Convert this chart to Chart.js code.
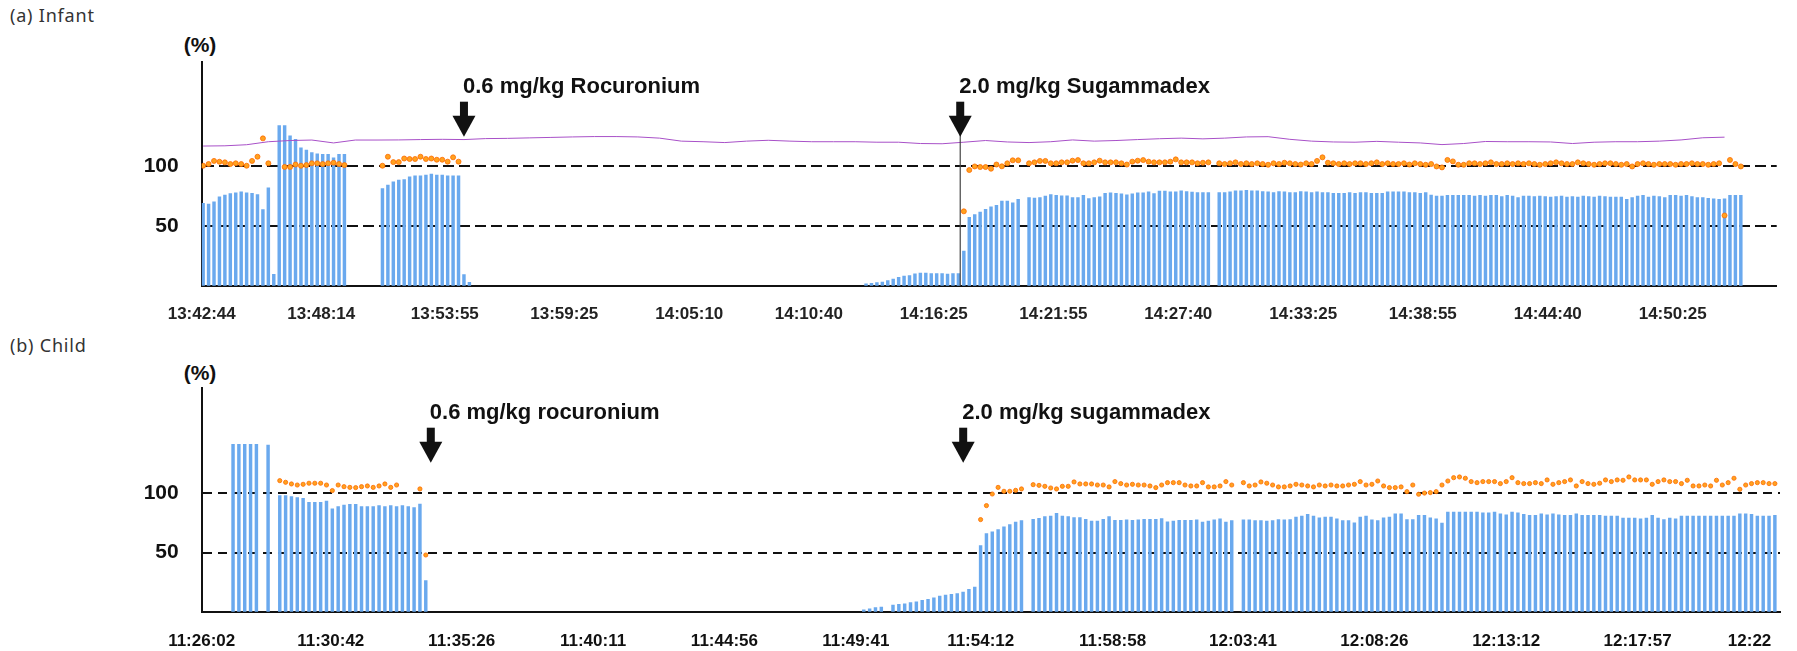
<!DOCTYPE html>
<html>
<head>
<meta charset="utf-8">
<script src="https://cdn.jsdelivr.net/npm/chart.js@4.4.1/dist/chart.umd.min.js"></script>
<style>
  body { margin: 0; background: #fff; width: 1797px; height: 651px; position: relative; overflow: hidden; }
  .panel { position: absolute; left: 0; width: 1797px; height: 325px; }
  .title { position: absolute; left: 10px; font-family: 'Noto Sans', sans-serif; font-size: 18px; line-height: 25px; color: #333; letter-spacing: 0.8px; }
  .unit { position: absolute; left: 170px; width: 60px; text-align: center; font-family: 'Liberation Sans', Arial, sans-serif; font-weight: bold; font-size: 21px; line-height: 24px; color: #111; }
</style>
</head>
<body>
<div class="title" style="top:3px">(a) Infant</div>
<div class="unit" style="top:33px">(%)</div>
<div class="panel" style="top:0px"><canvas id="infant" width="1797" height="325"></canvas></div>

<div class="title" style="top:333px">(b) Child</div>
<div class="unit" style="top:361px">(%)</div>
<div class="panel" style="top:326px"><canvas id="child" width="1797" height="325"></canvas></div>

<script>
const gap = n => new Array(n).fill(null);

// ---------- (a) Infant : one sample every 15 s ----------
const infantTicks = ['13:42:44', '13:48:14', '13:53:55', '13:59:25', '14:05:10', '14:10:40', '14:16:25',
    '14:21:55', '14:27:40', '14:33:25', '14:38:55', '14:44:40', '14:50:25'];
const infantAxisEnd = '14:55:12';
const infantFirstSample = '13:42:48';
const infantStep = 15;

// T1 (%)
const infantT1 = [
    68.7, 68, 70, 74, 75.6, 76.7, 77.5, 78.3, 77.5, 77, 76, 63.5, 81.6, 9.4, 133.5, 133.5, 125, 122, 115, 113,
    111, 110, 109.5, 109.5, 106.5, 109.5, 109.5,
    ...gap(6),
    81, 83.8, 86.6, 88, 88.5, 90.8, 91.6, 91.6, 92.2, 93, 92.2, 92.2, 91.6, 91.6, 91.6, 9.2, 2.8,
    ...gap(72),
    1.5, 2, 2.5, 3, 4.2, 5.6, 7, 8, 8.5, 9.9, 10.5, 10.5, 10.2, 10, 10, 9.6, 10, 10,
    28.8, 57, 59.3, 61.3, 63.6, 65.8, 67, 70.6, 70.6, 69, 72,
    null,
    73.4, 73, 73.4, 74.6, 76, 75.4, 74.9, 74.9, 73.4, 73.5, 75.4, 72.6, 73.5, 74, 77, 77.4, 77, 76.5, 75.7, 76.5,
    77.4, 77.4, 78.2, 76.8, 78.8, 78.8, 78.2, 78.2, 79, 78.5, 78, 77.6, 77.6, 77.6,
    null,
    77.6, 77.6, 78.2, 79, 79, 79.5, 79, 79, 78.5, 78.2, 77.6, 78.5, 78.2, 77.6, 77.6, 78.5, 78.2, 77.6, 78.2, 77.6,
    77.6, 77, 77, 77, 77.6, 77, 77.6, 77.6, 77, 77, 77, 78.2, 78.2, 78.2, 78.2, 77.6, 77.6, 77, 77.6, 75.6,
    74.8, 74.8, 75.4, 75.4,
    75.4, 75.4, 75.4, 74.8, 75.4, 74.8, 75.4, 75.4, 74.2, 75.4, 74.8, 73.4, 74.8, 74.8, 74.2, 74.8, 74.2, 73.9, 74.2, 74.8,
    73.9, 74.2, 73.9, 74.8, 74.2, 73.9, 74.8, 74.2, 73.9, 73.9, 73.9, 72, 73.4, 74.8, 75.4, 73.9, 74.8, 74.2, 73.4, 75.4,
    75.4, 74.8, 75.4, 74.2, 73.4, 73.4, 72.8, 72.5, 72, 72.5, 75.4, 75.4, 75.4
];

// TOF ratio (%)
const infantTOF = [
    100, 101.4, 104, 103.3, 102.8, 101.4, 102, 101.4, 100, 104, 107.5, 122.8, 102,
    null, null,
    99, 99, 101, 100, 100.5, 102, 102, 101.4, 102, 102.5, 101.4, 100.5,
    ...gap(6),
    100, 107.5, 103, 103, 106, 105.6, 105.6, 107.5, 105.6, 106, 105, 105, 103.4, 107, 103.4,
    ...gap(92),
    62, 96.4, 99.4, 98.9, 98.9, 97.5, 101, 99.5, 102, 104.5, 104.5,
    null,
    102, 102.8, 104, 104, 102, 102, 102.8, 102.8, 104.2, 104.7, 102, 102, 102.8, 104.2, 102.8, 102.8, 102.8, 102, 101, 103.4,
    104.2, 104.7, 103.4, 102.8, 102.8, 102.8, 103.4, 105.3, 102.8, 102.8, 102.8, 102, 102.5, 102.8,
    null,
    102, 101.4, 102, 102.8, 101.4, 102, 101.4, 102, 101.4, 100.8, 102, 101.4, 102.5, 102, 101.4, 101, 102, 101.4, 104,
    107, 102.5,
    102, 101.4, 102, 101.4, 102, 102, 101.4, 102, 102.8, 101.4, 102, 101.4, 101.4, 102, 101, 102, 101.4, 100.8, 101.4, 99.4,
    98.6, 104.8, 103.6, 100.8, 100.8,
    102, 102, 101.4, 102, 102.8, 101.4, 101.4, 102, 101.4, 102, 101.4, 102, 101.4, 100.8, 101.4, 102, 102.8, 102, 101.4, 101.4,
    102.8, 102, 101.4, 100.8, 101.4, 102, 102, 101.4, 100.8, 101.4,
    99.4,
    101.4, 102, 101.4, 100.8, 101.4, 101.4, 101.4, 100.8, 101.4, 101.4, 102, 101.4, 101.4, 100.8, 101.4, 102,
    58.5, 104.8, 101.4, 99.4
];

// purple trace, one reading per minute (every 4th sample)
const infantTrace = [
    116.4, 116.6, 117.5, 120, 121, 121.4, 119, 121.4, 121.4, 121.5, 121.8, 122, 121.8, 122.6, 122.8, 123.2, 123.6, 124,
    124.3, 124.3, 124, 123, 120.5, 120, 119.3, 120.5, 121.2, 120.5, 120, 120, 120, 119.6, 119.6, 118.5, 118.3, 119.6,
    121, 119.8, 119.3, 120, 121.5, 120.5, 121, 121.8, 122.5, 123, 122.4, 123, 124, 124.2, 122, 120.5, 119.8, 119.6,
    120.3, 119.6, 119, 117.6, 118.5, 120.2, 120, 120, 119.8, 118.5, 119.6, 120, 120, 120.5, 121.5, 123.3, 123.8
];

const infantDoses = [
    { time: '13:54:48', label: '0.6 mg/kg Rocuronium', line: false },
    { time: '14:17:38', label: '2.0 mg/kg Sugammadex', line: true }
];

// ---------- (b) Child ----------
const childTicks = ['11:26:02', '11:30:42', '11:35:26', '11:40:11', '11:44:56', '11:49:41', '11:54:12',
    '11:58:58', '12:03:41', '12:08:26', '12:13:12', '12:17:57', '12:22'];
const childAxisEnd = '12:23:06';
const childFirstSample = '11:27:10';
const childStep = 12.67;

const childT1 = [
    141.4, 141.4, 141.4, 141.4, 141.4, null, 140.8, null,
    98, 98, 97.2, 96.3, 95.8, 92.4, 92.4, 92.4, 93.5, 86.8, 88.7, 90.1, 90.7, 90.7, 88.7, 88.7, 88.7, 89.6,
    88.7, 89.6, 88.7, 89.6, 88.7, 87.9, 91, 26.2,
    ...gap(74),
    1.5, 2.5, 3.5, 4, null,
    5.5, 6.2, 6.7, 7.6, 8.4, 9.6, 10.4, 11.8, 13.2, 14, 14.6, 15.4, 16.6, 18.8, 20.8,
    55.9, 66, 67.4, 69.4, 71.6, 73.6, 75.6, 77,
    null,
    78, 78.9, 80.3, 80.8, 83.1, 80.8, 80.3, 79.4, 79.4, 78, 76.6, 76.6, 78, 80.3, 77.2, 77.2, 77.5, 77.2, 77.5, 78,
    78, 78, 78.6, 76, 76.6, 77.2, 77.2, 77.2,
    77.6, 75.6, 76.5, 77.6, 78.5, 75.6, 77,
    null,
    77.6, 77.6, 77, 77, 76.5, 77, 77.9, 77.6, 77.9, 79.9, 80.7, 82.2, 80.7, 79.3, 79.9, 79.9,
    78.5, 77, 77, 75, 79.9, 80.7, 77.6, 77, 79.3, 79.9, 82.7, 82.7, 77.9, 77.9, 81.3, 81.3,
    79.3, 78.5, 74.8, 84.1, 84.1, 84.1, 84.1, 84.1, 84.1, 83.6, 83.6, 84.1, 82.7, 81.9, 84.1, 83.6,
    82.2, 81.3, 81.3, 82.7, 81.9, 82.7, 81.9, 81.3, 81.3, 82.7, 81.3, 81.3, 81.3, 81.3, 80.7, 80.7,
    80.7, 79, 79, 79, 78.5, 79, 81.3, 79, 77.9, 79, 78.5, 80.7, 80.7, 80.7, 80.7, 80.7,
    80.7, 80.7, 80.7, 80.7, 80.7, 82.7, 82.7, 82.2, 80.7, 80.7, 80.7, 81.3
];

const childTOF = [
    ...gap(8),
    110.7, 109.3, 107.9, 107, 107.6, 108.5, 108.5, 108.5, 107, 102.3, 107, 105.6, 105, 104.8, 105.6, 106.2, 105, 106.2,
    107.9, 105, 107,
    null, null, null,
    103.7, 47.9,
    ...gap(94),
    77.8, 89.6, 99.4, 105, 101.7, 101.7, 102.5, 103.7,
    null,
    107.3, 106.7, 105.9, 104.5, 103.7, 105.9, 105.9, 109.6, 107.9, 107.9, 107.9,
    107, 107, 105.4, 109.9, 108.2, 107, 107.6, 107, 107, 106.2, 104.8, 107, 109, 109, 109, 107, 106.2,
    106.2, 109, 105.4, 105.4, 106.2, 109.9, 107,
    null,
    109, 106.2, 107, 109.6, 108.5, 107, 105.4, 105.4, 106.2, 107.6, 107, 106.2, 105.4, 107, 106.2, 107,
    106.2, 106.2, 107, 107.6, 109.9, 107, 107.6, 110.4, 106.2, 104.8, 104.8, 105.4, 101.4, 107, 99.2, 100.2,
    100.6, 101.4, 107, 110.4, 113.2, 113.8, 112.7, 109.9, 109, 109.9, 109.9, 109.9, 108.2, 109.9, 113.2, 109,
    108.2, 108.2, 109, 108.2, 111.3, 107.6, 109, 109.9, 111.3, 106.2, 109.9, 108.2, 107.6, 108.5, 111.3, 109.9,
    111.3, 111, 113.8, 111.3, 111.3, 111.3, 107.6, 109.9, 111.3, 109.9, 109.9, 108.2, 111, 106.2, 106.2, 107,
    106.2, 111, 107, 109, 112.7, 103.4, 107, 108.2, 109, 109, 108.2, 108.2
];

const childDoses = [
    { time: '11:34:19', label: '0.6 mg/kg rocuronium', line: false },
    { time: '11:53:34', label: '2.0 mg/kg sugammadex', line: false }
];

// ---------- drawing ----------
const FONT = "'Liberation Sans', Arial, sans-serif";

function toSec(str) {
    const p = str.split(':').map(Number);
    return p[0] * 3600 + p[1] * 60 + (p[2] || 0);
}

function toPoints(values, first, step) {
    const pts = [];
    values.forEach((v, i) => {
        if (v !== null) pts.push({ x: first + i * step, y: v });
    });
    return pts;
}

function dosePlugin(doses, t0) {
    return {
        id: 'doses',
        afterDraw(chart) {
            const { ctx, chartArea, scales } = chart;
            const top = chartArea.top;
            doses.forEach(d => {
                const px = scales.x.getPixelForValue(toSec(d.time) - t0);
                ctx.save();
                if (d.line) {
                    ctx.strokeStyle = '#444';
                    ctx.lineWidth = 1.2;
                    ctx.beginPath();
                    ctx.moveTo(px, top + 72);
                    ctx.lineTo(px, chartArea.bottom);
                    ctx.stroke();
                }
                ctx.fillStyle = '#111';
                ctx.fillRect(px - 4, top + 40, 8, 15);
                ctx.beginPath();
                ctx.moveTo(px - 11.5, top + 54);
                ctx.lineTo(px + 11.5, top + 54);
                ctx.lineTo(px, top + 75);
                ctx.closePath();
                ctx.fill();
                ctx.font = 'bold 22px ' + FONT;
                ctx.textBaseline = 'middle';
                ctx.textAlign = 'left';
                ctx.fillText(d.label, px - 1, top + 25.5);
                ctx.restore();
            });
        }
    };
}

function drawPanel(id, p) {
    const t0 = toSec(p.ticks[0]);
    const first = toSec(p.firstSample) - t0;
    const tickVals = p.ticks.map(t => toSec(t) - t0);

    const datasets = [
        {
            type: 'scatter',
            data: toPoints(p.tof, first, p.step),
            backgroundColor: '#ffa21f',
            borderColor: '#ff6a00',
            borderWidth: 0.8,
            pointRadius: p.dotRadius,
            order: 1
        },
        {
            type: 'bar',
            data: toPoints(p.t1, first, p.step),
            backgroundColor: '#6aa9ee',
            barThickness: 2.8,
            order: 3
        }
    ];
    if (p.trace) {
        datasets.push({
            type: 'line',
            data: toPoints(p.trace, first, p.step * 4),
            borderColor: '#a850c8',
            borderWidth: 1,
            pointRadius: 0,
            tension: 0,
            order: 2
        });
    }

    new Chart(document.getElementById(id), {
        type: 'bar',
        data: { datasets: datasets },
        options: {
            responsive: false,
            animation: false,
            devicePixelRatio: 1,
            layout: { padding: { left: 0, top: 61.7, right: p.rightPad, bottom: 0 } },
            plugins: { legend: { display: false }, tooltip: { enabled: false } },
            scales: {
                x: {
                    type: 'linear',
                    min: 0,
                    max: toSec(p.axisEnd) - t0,
                    offset: false,
                    z: 1,
                    grid: { display: false },
                    border: { display: true, color: '#111', width: 2 },
                    afterBuildTicks: s => { s.ticks = tickVals.map(v => ({ value: v })); },
                    afterFit: s => { s.height = 39.3; },
                    ticks: {
                        autoSkip: false,
                        maxRotation: 0,
                        padding: p.xPad,
                        color: p.tickColor,
                        font: { family: FONT, size: 17, weight: 'bold' },
                        callback: (v, i) => p.ticks[i]
                    }
                },
                y: {
                    min: 0,
                    max: p.yMax,
                    z: 1,
                    grid: { color: '#111', lineWidth: 2, drawTicks: false },
                    border: { display: true, color: '#111', width: 2, dash: p.dash },
                    afterBuildTicks: s => { s.ticks = [{ value: 50 }, { value: 100 }]; },
                    afterFit: s => { s.width = 201.7; },
                    ticks: {
                        padding: 23,
                        color: '#111',
                        font: { family: FONT, size: 21, weight: 'bold' }
                    }
                }
            }
        },
        plugins: [dosePlugin(p.doses, t0)]
    });
}

drawPanel('infant', {
    ticks: infantTicks, axisEnd: infantAxisEnd, firstSample: infantFirstSample, step: infantStep,
    t1: infantT1, tof: infantTOF, trace: infantTrace, doses: infantDoses,
    yMax: 186.7, rightPad: 20.3, xPad: 10, tickColor: '#222', dash: [11, 5], dotRadius: 2.5
});

drawPanel('child', {
    ticks: childTicks, axisEnd: childAxisEnd, firstSample: childFirstSample, step: childStep,
    t1: childT1, tof: childTOF, trace: null, doses: childDoses,
    yMax: 189.2, rightPad: 17, xPad: 11, tickColor: '#111', dash: [9, 6], dotRadius: 2.1
});
</script>
</body>
</html>
